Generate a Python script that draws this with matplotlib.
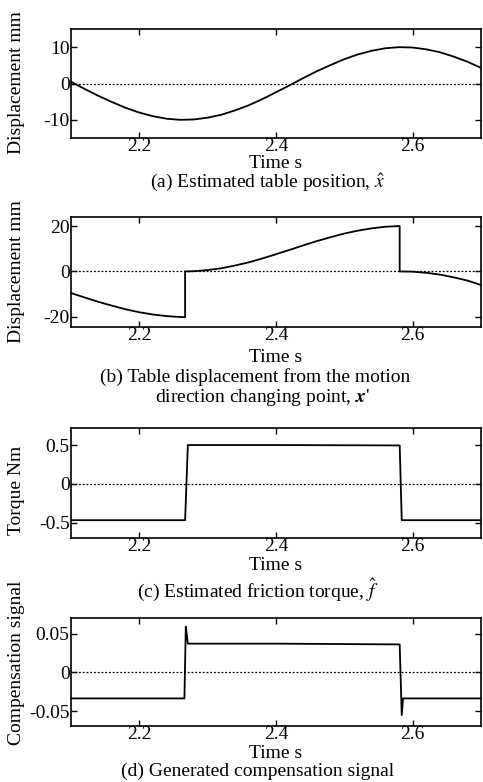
import matplotlib
matplotlib.use("Agg")
import matplotlib.pyplot as plt

plt.rcParams['font.family'] = ['Liberation Serif', 'DejaVu Serif']
plt.rcParams['mathtext.fontset'] = 'stix'
plt.rcParams['axes.unicode_minus'] = False

# (a) estimated table position (mm)
t_a = [2.10, 2.12, 2.14, 2.16, 2.18, 2.20, 2.22, 2.24, 2.26, 2.28, 2.30,
       2.32, 2.34, 2.36, 2.38, 2.40, 2.42, 2.44, 2.46, 2.48, 2.50, 2.52,
       2.54, 2.56, 2.58, 2.60, 2.62, 2.64, 2.66, 2.68, 2.70]
x_a = [0.5, -1.5, -3.4, -5.1, -6.7, -8.0, -9.0, -9.7, -10.0, -9.9, -9.4,
       -8.6, -7.4, -6.0, -4.3, -2.4, -0.5, 1.5, 3.4, 5.1, 6.7, 8.0,
       9.0, 9.7, 10.0, 9.9, 9.4, 8.6, 7.4, 6.0, 4.3]

# (b) displacement from motion direction changing point (mm)
t_b = [2.10, 2.12, 2.14, 2.16, 2.18, 2.20, 2.22, 2.24, 2.26, 2.267, 2.267,
       2.28, 2.30, 2.32, 2.34, 2.36, 2.38, 2.40, 2.42, 2.44, 2.46, 2.48,
       2.50, 2.52, 2.54, 2.56, 2.58, 2.581, 2.581, 2.60, 2.62, 2.64, 2.66,
       2.68, 2.70]
x_b = [-9.5, -11.5, -13.4, -15.1, -16.7, -18.0, -19.0, -19.7, -20.1, -20.2, 0.0,
       0.1, 0.6, 1.4, 2.6, 4.0, 5.7, 7.6, 9.5, 11.5, 13.4, 15.1,
       16.7, 18.0, 19.0, 19.7, 20.0, 20.0, 0.0, -0.1, -0.6, -1.4, -2.6,
       -4.0, -6.0]

# (c) estimated friction torque (Nm)
t_c = [2.10, 2.267, 2.271, 2.40, 2.581, 2.584, 2.70]
f_c = [-0.47, -0.47, 0.50, 0.50, 0.495, -0.47, -0.47]

# (d) generated compensation signal
t_d = [2.10, 2.266, 2.268, 2.271, 2.40, 2.581, 2.584, 2.586, 2.70]
u_d = [-0.0335, -0.0335, 0.059, 0.037, 0.037, 0.036, -0.055, -0.0335, -0.0335]

xticks = [2.2, 2.4, 2.6]
xticklabels = ['2.2', '2.4', '2.6']

W, H = 483, 782
fig = plt.figure(figsize=(W / 100, H / 100), dpi=100)
fs = 14


def make_axes(top, bottom, left=71, right=481):
    return fig.add_axes([left / W, 1 - bottom / H, (right - left) / W, (bottom - top) / H])


panels = [
    dict(box=(29, 138), t=t_a, y=x_a, ylim=(-15, 15), yt=[-10, 0, 10], ytl=['-10', '0', '10'],
         ylabel='Displacement mm', ylab_y=83),
    dict(box=(217, 327), t=t_b, y=x_b, ylim=(-24.5, 24), yt=[-20, 0, 20], ytl=['-20', '0', '20'],
         ylabel='Displacement mm', ylab_y=272),
    dict(box=(428, 538), t=t_c, y=f_c, ylim=(-0.7, 0.72), yt=[-0.5, 0, 0.5], ytl=['-0.5', '0', '0.5'],
         ylabel='Torque Nm', ylab_y=490),
    dict(box=(618, 726), t=t_d, y=u_d, ylim=(-0.069, 0.07), yt=[-0.05, 0, 0.05],
         ytl=['-0.05', '0', '0.05'], ylabel='Compensation signal', ylab_y=663),
]

for p in panels:
    ax = make_axes(*p['box'])
    ax.plot(p['t'], p['y'], color='black', lw=1.3)
    ax.axhline(0, color='black', lw=0.9, linestyle=(0, (1.5, 1.5)))
    ax.set_xlim(2.1, 2.7)
    ax.set_ylim(*p['ylim'])
    ax.set_xticks(xticks)
    ax.set_xticklabels(xticklabels, fontsize=fs)
    ax.set_yticks(p['yt'])
    ax.set_yticklabels(p['ytl'], fontsize=fs)
    ax.tick_params(direction='in', top=True, right=True, length=4, width=1, pad=1)
    ax.tick_params(axis='x', pad=0)
    for s in ax.spines.values():
        s.set_linewidth(1.2)
    fig.text(17 / W, 1 - p['ylab_y'] / H, p['ylabel'], rotation=90,
             ha='center', va='center', fontsize=fs)

# x labels and captions
fig.text(276 / W, 1 - 164 / H, 'Time s', ha='center', va='center', fontsize=fs)
fig.text(268 / W, 1 - 183 / H, r'(a) Estimated table position, $\hat{x}$',
         ha='center', va='center', fontsize=fs)

fig.text(276 / W, 1 - 358 / H, 'Time s', ha='center', va='center', fontsize=fs)
fig.text(255 / W, 1 - 377 / H, '(b) Table displacement from the motion',
         ha='center', va='center', fontsize=fs)
fig.text(262 / W, 1 - 397 / H, r"direction changing point, $\boldsymbol{x}$'",
         ha='center', va='center', fontsize=fs)

fig.text(276 / W, 1 - 566 / H, 'Time s', ha='center', va='center', fontsize=fs)
fig.text(258 / W, 1 - 590 / H, r'(c) Estimated friction torque, $\hat{f}$',
         ha='center', va='center', fontsize=fs)

fig.text(276 / W, 1 - 754 / H, 'Time s', ha='center', va='center', fontsize=fs)
fig.text(258 / W, 1 - 771 / H, '(d) Generated compensation signal',
         ha='center', va='center', fontsize=fs)

fig.savefig('out.png', dpi=100)
